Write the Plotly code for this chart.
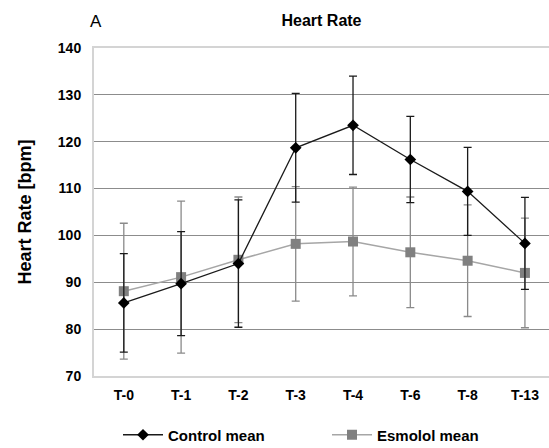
import plotly.graph_objects as go

categories = ["T-0", "T-1", "T-2", "T-3", "T-4", "T-6", "T-8", "T-13"]
control_mean = [85.6, 89.7, 94.0, 118.7, 123.5, 116.2, 109.4, 98.3]
control_sd = [10.5, 11.1, 13.6, 11.6, 10.5, 9.2, 9.4, 9.8]
esmolol_mean = [88.1, 91.1, 94.8, 98.2, 98.7, 96.4, 94.6, 92.0]
esmolol_sd = [14.5, 16.2, 13.4, 12.2, 11.6, 11.8, 11.9, 11.7]

FONT = "Liberation Sans Narrow, Arial Narrow, Liberation Sans, Arial, sans-serif"

fig = go.Figure()
fig.add_trace(go.Scatter(
    x=categories, y=esmolol_mean, name="Esmolol mean", mode="lines+markers",
    line=dict(color="#a6a6a6", width=1.5),
    marker=dict(symbol="square", size=10, color="#808080"),
    error_y=dict(type="data", array=esmolol_sd, visible=True, color="#8a8a8a", thickness=1.3, width=4),
    legendrank=2,
))
fig.add_trace(go.Scatter(
    x=categories, y=control_mean, name="Control mean", mode="lines+markers",
    line=dict(color="#1a1a1a", width=1.3),
    marker=dict(symbol="diamond", size=9, color="#000000"),
    error_y=dict(type="data", array=control_sd, visible=True, color="#1a1a1a", thickness=1.3, width=4),
    legendrank=1,
))

fig.update_layout(
    width=549, height=448,
    margin=dict(l=94, r=0, t=48, b=72, autoexpand=False),
    plot_bgcolor="white", paper_bgcolor="white",
    font=dict(family=FONT, size=13, color="black"),
    title=dict(text="<b>Heart Rate</b>", x=0.5, xref="paper", xanchor="center",
               y=1 - 20 / 448, yref="container", yanchor="middle",
               font=dict(family=FONT, size=16, color="black")),
    showlegend=True,
    legend=dict(orientation="h", x=118 / 549, xanchor="left", xref="container",
                y=1 - 435 / 448, yref="container", yanchor="middle",
                font=dict(family=FONT, size=15, color="black", weight="bold"),
                itemwidth=40, entrywidth=154, entrywidthmode="pixels",
                bgcolor="rgba(0,0,0,0)"),
    xaxis=dict(type="category", range=[-0.52, 7.42], showgrid=False,
               showline=True, linecolor="#d4d4d4", linewidth=2, mirror=True,
               tickfont=dict(family=FONT, size=14, color="black", weight="bold"),
               ticks="", ticklabelstandoff=5),
    yaxis=dict(range=[70, 140], dtick=10, showgrid=True, gridcolor="#8c8c8c", gridwidth=1,
               showline=True, linecolor="#d4d4d4", linewidth=2, zeroline=False,
               tickfont=dict(family=FONT, size=14, color="black", weight="bold"),
               ticks="", ticklabelstandoff=8,
               title=dict(text="<b>Heart Rate [bpm]</b>", standoff=22,
                          font=dict(family=FONT, size=18, color="black"))),
    annotations=[dict(text="A", x=(88 - 94) / 455, y=1 + (48 - 22) / 328,
                      xref="paper", yref="paper", showarrow=False,
                      xanchor="left", yanchor="middle",
                      font=dict(family=FONT, size=17, color="black"))],
)

fig.write_html("out.html")
